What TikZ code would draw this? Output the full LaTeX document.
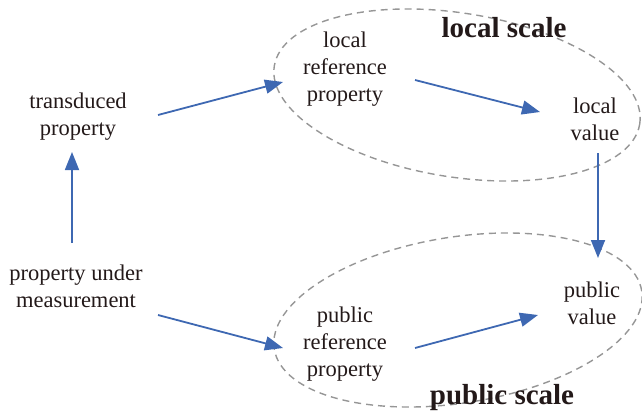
\documentclass[tikz,border=0pt]{standalone}
\usepackage{fontspec}
\setmainfont{Liberation Serif}
\usetikzlibrary{arrows.meta,calc}
\definecolor{arrblue}{RGB}{62,104,178}
\definecolor{ellgray}{RGB}{150,150,150}
\definecolor{txt}{RGB}{35,25,25}
\tikzset{
  lbl/.style={align=center,inner sep=0pt,text=txt,font=\fontsize{22.5}{27}\selectfont},
  scalelbl/.style={inner sep=0pt,text=txt,font=\fontsize{29}{33}\selectfont\bfseries},
  arr/.style={draw=arrblue,line width=1.8pt,-{Triangle[length=18pt,width=14pt]}},
  ell/.style={draw=ellgray,line width=1.4pt,dash pattern=on 7pt off 5pt}
}
\begin{document}
\begin{tikzpicture}[x=1pt,y=-1pt]
\useasboundingbox (0,0) rectangle (642,415);
% scales
\draw[ell,rotate around={-9:(457,95)}] (457,95) ellipse [x radius=185pt,y radius=82pt];
\draw[ell,rotate around={9:(458,320)}] (458,320) ellipse [x radius=186pt,y radius=83pt];
% nodes
\node[lbl] (t) at (78,117) {transduced\\property};
\node[lbl] (pm) at (76,286) {property under\\measurement};
\node[lbl] (lr) at (345,69) {local\\reference\\property};
\node[lbl] (lv) at (595,119) {local\\value};
\node[lbl] (pr) at (345,344) {public\\reference\\property};
\node[lbl] (pv) at (592,303) {public\\value};
\node[scalelbl] (ls) at (504,28) {local scale};
\node[scalelbl] (ps) at (502,398) {public scale};
% connectors
\draw[arr] ($(t)+(80,-2)$) -- ($(lr)+(-62,13)$);
\draw[arr] ($(pm)+(-4,-43)$) -- ($(t)+(-6,35)$);
\draw[arr] ($(pm)+(82,29)$) -- ($(pr)+(-62,4)$);
\draw[arr] ($(lr)+(70,11)$) -- ($(lv)+(-55,-7)$);
\draw[arr] ($(lv)+(3,34)$) -- ($(pv)+(6,-45)$);
\draw[arr] ($(pr)+(70,4)$) -- ($(pv)+(-54,12)$);
\end{tikzpicture}
\end{document}
